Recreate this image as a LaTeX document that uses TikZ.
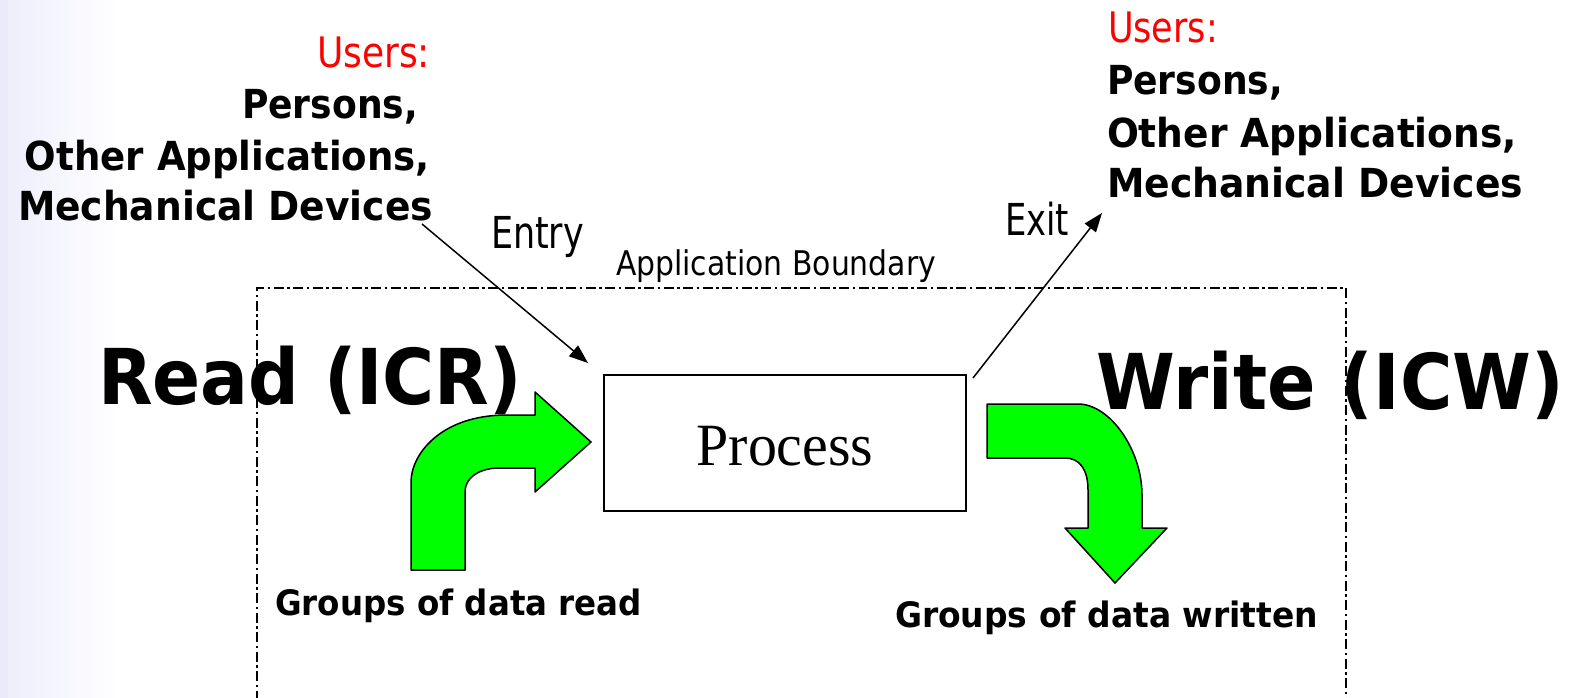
\documentclass[tikz,border=0pt]{standalone}
\usepackage{fontspec}
\usepackage{graphicx}
\setmainfont{DejaVu Sans}
\newfontfamily\procfont{Liberation Serif}
\usetikzlibrary{arrows.meta}

\definecolor{userred}{RGB}{255,0,0}
\definecolor{flowgreen}{RGB}{0,255,0}
\definecolor{edgeblue}{RGB}{234,234,251}
\definecolor{fadeblue}{RGB}{238,238,252}

% text of a given size, squeezed to a given width
\newcommand{\sized}[3]{{\fontsize{#1}{#1}\selectfont\resizebox{#2pt}{\height}{#3}}}

\tikzset{
  txt/.style={inner sep=0pt, outer sep=0pt},
  boundary/.style={line width=2pt, dash pattern=on 10pt off 3.5pt on 2.5pt off 3.5pt},
  flow/.style={fill=flowgreen, draw=black, line width=1.5pt, line join=round},
  procbox/.style={draw=black, line width=1.6pt, fill=white, minimum width=362pt, minimum height=136pt,
    inner sep=0pt, text height=44pt, text depth=0pt},
  link/.style={line width=1.5pt, -{Triangle[length=19pt,width=14pt]}}
}

\begin{document}
\begin{tikzpicture}[x=1pt,y=-1pt]
\useasboundingbox (0,0) rectangle (1582,698);

% slide background with its pale left margin
\fill[white] (0,0) rectangle (1582,698);
\shade[left color=fadeblue, right color=white] (8,0) rectangle (120,698);
\fill[edgeblue] (0,0) rectangle (8,698);

% application boundary (runs past the lower edge)
\draw[boundary] (257,720) -- (257,288) -- (1346,288) -- (1346,720);

% group of data read, bending into the process
\draw[flow] (411,570) -- (411,482)
  .. controls (411,455) and (440,415) .. (507,415)
  -- (535,415) -- (535,392) -- (591,442) -- (535,492) -- (535,468)
  -- (497,468) .. controls (478,469) and (465,478) .. (465,492)
  -- (465,570) -- cycle;

% group of data written, bending down out of the process
\draw[flow] (987,404) -- (1078,404)
  .. controls (1110,404) and (1142,450) .. (1142,495)
  -- (1142,528) -- (1167,528) -- (1115,583) -- (1065,528) -- (1088,528)
  -- (1088,490) .. controls (1088,470) and (1080,458) .. (1065,458)
  -- (987,458) -- cycle;

% the process
\node[procbox] (proc) at (785,443) {\procfont\fontsize{60}{60}\selectfont\resizebox{177pt}{\height}{Process}};

% users on the entry side
\node[txt, anchor=base east, text=userred] (usersL) at (430,68) {\sized{42}{113}{Users:}};
\node[txt, anchor=base east] (persL) at (418,119) {\bfseries\sized{40}{176}{Persons,}};
\node[txt, anchor=base east] (othL) at (430,170) {\bfseries\sized{40}{405}{Other Applications,}};
\node[txt, anchor=base east] (mechL) at (433,220) {\bfseries\sized{40}{415}{Mechanical Devices}};

% users on the exit side
\node[txt, anchor=base west, text=userred] (usersR) at (1108,43) {\sized{42}{110}{Users:}};
\node[txt, anchor=base west] (persR) at (1107,95) {\bfseries\sized{40}{176}{Persons,}};
\node[txt, anchor=base west] (othR) at (1107,147) {\bfseries\sized{40}{410}{Other Applications,}};
\node[txt, anchor=base west] (mechR) at (1107,197) {\bfseries\sized{40}{416}{Mechanical Devices}};

% labels
\node[txt, anchor=base west] (entry) at (491,248) {\sized{44}{93}{Entry}};
\node[txt, anchor=base west] (exit) at (1005,235) {\sized{44}{64}{Exit}};
\node[txt, anchor=base west] (bound) at (616,275) {\sized{34}{320}{Application Boundary}};
\node[txt, anchor=base west] (icr) at (98,404) {\bfseries\sized{77}{424}{Read (ICR)}};
\node[txt, anchor=base west] (icw) at (1096,409) {\bfseries\sized{77}{468}{Write (ICW)}};
\node[txt, anchor=base west] (gread) at (275,615) {\bfseries\sized{35}{367}{Groups of data read}};
\node[txt, anchor=base west] (gwrite) at (895,627) {\bfseries\sized{35}{423}{Groups of data written}};

% entry and exit movements
\coordinate (entryFrom) at (422,224);
\coordinate (entryTo) at (588,363);
\coordinate (exitFrom) at (973,378);
\coordinate (exitTo) at (1102,213);
\draw[link] (entryFrom) -- (entryTo);
\draw[link] (exitFrom) -- (exitTo);
\end{tikzpicture}
\end{document}
